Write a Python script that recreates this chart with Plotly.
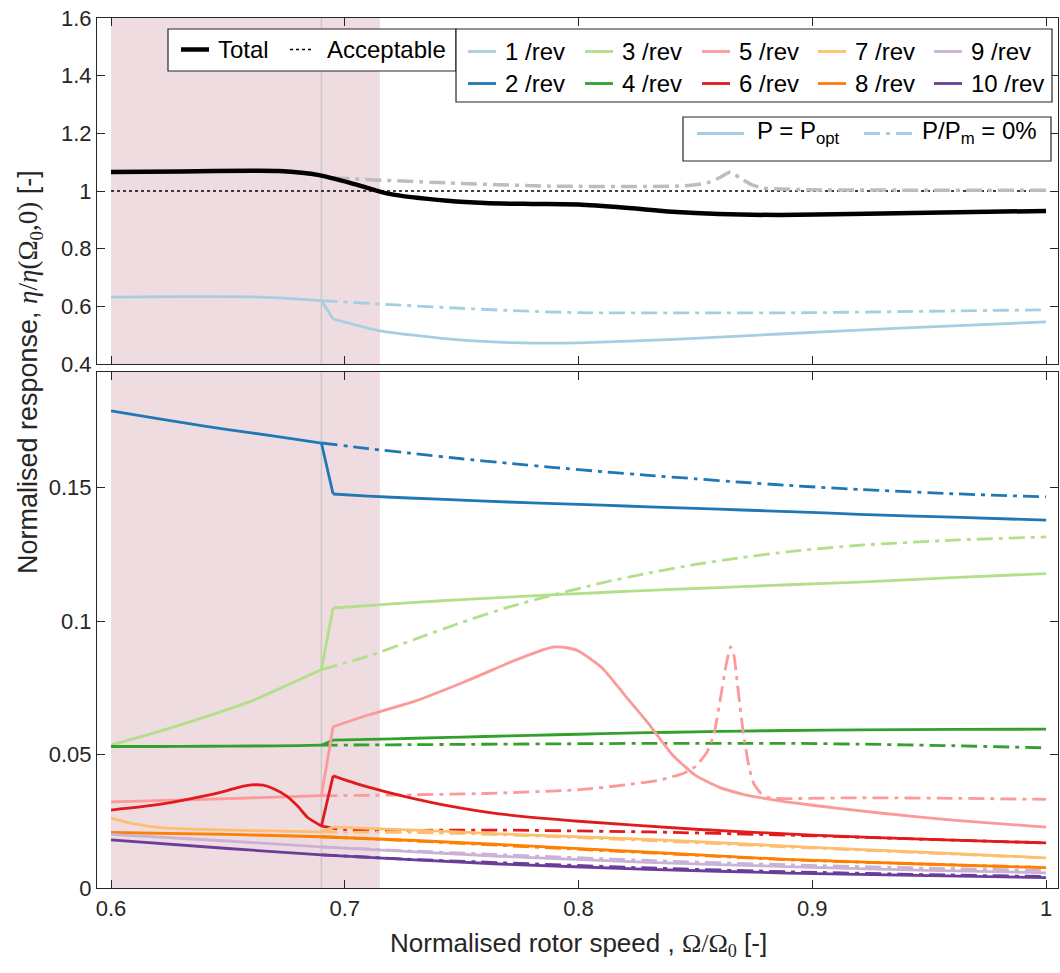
import plotly.graph_objects as go
from plotly.subplots import make_subplots

# ---------------- data: normalised rotor speed and responses ----------------
# shared speed grids (Omega / Omega_0)
SPEED = [0.600, 0.620, 0.640, 0.660, 0.680, 0.690, 0.695, 0.710, 0.730, 0.750,
         0.770, 0.790, 0.810, 0.830, 0.850, 0.870, 0.890, 0.920, 0.960, 1.000]
SPEED_P0 = [0.690, 0.710, 0.730, 0.750, 0.770, 0.790, 0.810, 0.830, 0.850, 0.870,
            0.890, 0.920, 0.960, 1.000]

# total response (upper panel)
TOTAL_X = [0.600, 0.630, 0.660, 0.672, 0.689, 0.705, 0.719, 0.744, 0.760, 0.780,
           0.800, 0.820, 0.840, 0.860, 0.886, 0.930, 1.000]
TOTAL_Y = [1.066, 1.068, 1.070, 1.069, 1.055, 1.022, 0.990, 0.966, 0.958, 0.955,
           0.953, 0.942, 0.928, 0.920, 0.917, 0.922, 0.931]
TOTAL_P0_X = [0.695, 0.744, 0.787, 0.843, 0.855, 0.860, 0.865, 0.869, 0.874, 0.879,
              0.900, 0.950, 1.000]
TOTAL_P0_Y = [1.045, 1.028, 1.017, 1.017, 1.028, 1.045, 1.066, 1.045, 1.022, 1.010,
              1.004, 1.003, 1.003]
ACCEPTABLE = 1.0

# 1 /rev (upper panel)
H1_X = [0.600, 0.630, 0.660, 0.672, 0.690, 0.695, 0.715, 0.744, 0.772, 0.800,
        0.843, 0.886, 0.940, 1.000]
H1_Y = [0.632, 0.634, 0.633, 0.629, 0.620, 0.556, 0.515, 0.487, 0.474, 0.473,
        0.486, 0.504, 0.525, 0.546]
H1_P0_X = [0.690, 0.715, 0.745, 0.772, 0.800, 0.850, 0.900, 0.950, 1.000]
H1_P0_Y = [0.620, 0.608, 0.595, 0.585, 0.578, 0.577, 0.578, 0.583, 0.588]

# 2 /rev .. 4 /rev on shared grids
H2_Y = [0.1787, 0.1758, 0.1730, 0.1705, 0.1680, 0.1667, 0.1476, 0.1468, 0.1460, 0.1453,
        0.1446, 0.1440, 0.1434, 0.1428, 0.1422, 0.1416, 0.1410, 0.1400, 0.1389, 0.1378]
H2_P0_Y = [0.1667, 0.1646, 0.1627, 0.1608, 0.1591, 0.1575, 0.1560, 0.1546, 0.1533, 0.1520,
           0.1508, 0.1493, 0.1477, 0.1465]
H3_Y = [0.0535, 0.0585, 0.0640, 0.0700, 0.0778, 0.0818, 0.1049, 0.1058, 0.1070, 0.1080,
        0.1090, 0.1099, 0.1107, 0.1115, 0.1122, 0.1129, 0.1136, 0.1146, 0.1163, 0.1178]
H3_P0_Y = [0.0818, 0.0868, 0.0932, 0.0995, 0.1052, 0.1100, 0.1143, 0.1180, 0.1212, 0.1238,
           0.1260, 0.1284, 0.1303, 0.1315]
H4_Y = [0.0530, 0.0530, 0.0531, 0.0532, 0.0533, 0.0535, 0.0554, 0.0557, 0.0561, 0.0565,
        0.0570, 0.0574, 0.0578, 0.0582, 0.0585, 0.0588, 0.0590, 0.0592, 0.0594, 0.0595]
H4_P0_Y = [0.0535, 0.0536, 0.0537, 0.0538, 0.0539, 0.0540, 0.0541, 0.0542, 0.0542, 0.0542,
           0.0542, 0.0539, 0.0533, 0.0525]

# 5 /rev
H5_X = [0.600, 0.640, 0.690, 0.695, 0.710, 0.730, 0.750, 0.760, 0.770, 0.780,
        0.785, 0.790, 0.795, 0.800, 0.810, 0.820, 0.830, 0.840, 0.850, 0.860,
        0.870, 0.880, 0.900, 0.930, 0.960, 1.000]
H5_Y = [0.0323, 0.0332, 0.0346, 0.0604, 0.0648, 0.0700, 0.0768, 0.0805, 0.0843, 0.0877,
        0.0893, 0.0903, 0.0900, 0.0888, 0.0825, 0.0720, 0.0615, 0.0500, 0.0422, 0.0378,
        0.0352, 0.0335, 0.0310, 0.0280, 0.0254, 0.0228]
H5_P0_X = [0.690, 0.720, 0.760, 0.800, 0.820, 0.835, 0.845, 0.850, 0.855, 0.858,
           0.8605, 0.863, 0.865, 0.8665, 0.868, 0.8705, 0.873, 0.875, 0.878, 0.882,
           0.890, 0.920, 0.960, 1.000]
H5_P0_Y = [0.0346, 0.0348, 0.0354, 0.0368, 0.0386, 0.0405, 0.0430, 0.0455, 0.0510, 0.0580,
           0.0700, 0.0830, 0.0903, 0.0870, 0.0760, 0.0580, 0.0450, 0.0390, 0.0355, 0.0337,
           0.0335, 0.0338, 0.0336, 0.0332]

# 6 /rev
H6_X = [0.600, 0.620, 0.640, 0.650, 0.655, 0.660, 0.665, 0.670, 0.675, 0.680,
        0.684, 0.690, 0.695, 0.705, 0.716, 0.730, 0.745, 0.766, 0.800, 0.850,
        0.900, 0.950, 1.000]
H6_Y = [0.0292, 0.0312, 0.0345, 0.0366, 0.0378, 0.0386, 0.0385, 0.0370, 0.0345, 0.0305,
        0.0265, 0.0232, 0.0420, 0.0391, 0.0364, 0.0334, 0.0307, 0.0278, 0.0250, 0.0220,
        0.0198, 0.0182, 0.0169]
H6_P0_X = [0.690, 0.700, 0.766, 0.830, 0.890, 0.950, 1.000]
H6_P0_Y = [0.0232, 0.0218, 0.0217, 0.0210, 0.0198, 0.0182, 0.0169]

# 7 /rev
H7_X = [0.600, 0.610, 0.624, 0.650, 0.690, 0.695, 0.730, 0.766, 0.830, 0.889, 0.950, 1.000]
H7_Y = [0.0262, 0.0240, 0.0224, 0.0217, 0.0210, 0.0228, 0.0217, 0.0203, 0.0182, 0.0157,
        0.0133, 0.0113]
H7_P0_X = [0.690, 0.730, 0.766, 0.830, 0.889, 0.950, 1.000]
H7_P0_Y = [0.0210, 0.0208, 0.0200, 0.0178, 0.0154, 0.0131, 0.0112]

# 8 /rev .. 10 /rev
HIGH_X = [0.600, 0.650, 0.690, 0.730, 0.766, 0.830, 0.889, 0.950, 1.000]
HIGH_P0_X = [0.690, 0.730, 0.766, 0.830, 0.889, 0.950, 1.000]
H8_Y = [0.0208, 0.0201, 0.0192, 0.0178, 0.0163, 0.0134, 0.0107, 0.0089, 0.0076]
H8_P0_Y = [0.0192, 0.0176, 0.0160, 0.0132, 0.0106, 0.0089, 0.0077]
H9_Y = [0.0201, 0.0176, 0.0154, 0.0135, 0.0119, 0.0096, 0.0080, 0.0066, 0.0057]
H9_P0_Y = [0.0154, 0.0138, 0.0125, 0.0103, 0.0087, 0.0074, 0.0066]
H10_Y = [0.0180, 0.0148, 0.0124, 0.0105, 0.0090, 0.0070, 0.0056, 0.0046, 0.0039]
H10_P0_Y = [0.0124, 0.0107, 0.0095, 0.0075, 0.0061, 0.0050, 0.0043]

HARMONIC_LABELS = ["1 /rev", "2 /rev", "3 /rev", "4 /rev", "5 /rev",
                   "6 /rev", "7 /rev", "8 /rev", "9 /rev", "10 /rev"]
HARMONIC_COLORS = ["#a6cee3", "#1f78b4", "#b2df8a", "#33a02c", "#fb9a99",
                   "#e31a1c", "#fdbf6f", "#ff7f00", "#cab2d6", "#6a3d9a"]

# operating limits
SHADE_X0, SHADE_X1 = 0.600, 0.715
SWITCH_SPEED = 0.690

X_TICKS = [0.6, 0.7, 0.8, 0.9, 1.0]
Y1_TICKS = [0.4, 0.6, 0.8, 1.0, 1.2, 1.4, 1.6]
Y2_TICKS = [0, 0.05, 0.1, 0.15]

# ---------------- figure ----------------
W, H = 1060, 973
ML, MR, MT, MB = 97, 2, 18, 85
AX = "#262626"
FONT = "Liberation Sans, Arial, sans-serif"
SERIF = "Liberation Serif"
DASHDOT = "16px,6px,4px,6px"
LW = 2.8


def pxx(x):
    return (x - ML) / (W - ML - MR)


def pxy(y):
    return (H - MB - y) / (H - MT - MB)


def add_piecewise(fig, xs, ys, color, row, width=LW):
    """Smooth curve on either side of the switching speed, straight jump between."""
    i_sw = xs.index(SWITCH_SPEED)
    segments = [
        (xs[:i_sw + 1], ys[:i_sw + 1], "spline"),
        (xs[i_sw:i_sw + 2], ys[i_sw:i_sw + 2], "linear"),
        (xs[i_sw + 1:], ys[i_sw + 1:], "spline"),
    ]
    for sx, sy, shape in segments:
        fig.add_trace(go.Scatter(x=sx, y=sy, mode="lines",
                                 line=dict(color=color, width=width, shape=shape,
                                           smoothing=0.5),
                                 showlegend=False), row=row, col=1)


def add_dashdot(fig, xs, ys, color, row, width=LW):
    fig.add_trace(go.Scatter(x=xs, y=ys, mode="lines",
                             line=dict(color=color, width=width, dash=DASHDOT,
                                       shape="spline", smoothing=0.5),
                             showlegend=False), row=row, col=1)


fig = make_subplots(rows=2, cols=1, shared_xaxes=True)

bottom_series = [
    (SPEED, H2_Y, SPEED_P0, H2_P0_Y, 1),
    (SPEED, H3_Y, SPEED_P0, H3_P0_Y, 2),
    (SPEED, H4_Y, SPEED_P0, H4_P0_Y, 3),
    (H5_X, H5_Y, H5_P0_X, H5_P0_Y, 4),
    (H6_X, H6_Y, H6_P0_X, H6_P0_Y, 5),
    (H7_X, H7_Y, H7_P0_X, H7_P0_Y, 6),
    (HIGH_X, H8_Y, HIGH_P0_X, H8_P0_Y, 7),
    (HIGH_X, H9_Y, HIGH_P0_X, H9_P0_Y, 8),
    (HIGH_X, H10_Y, HIGH_P0_X, H10_P0_Y, 9),
]

# upper panel
add_dashdot(fig, H1_P0_X, H1_P0_Y, HARMONIC_COLORS[0], 1)
add_piecewise(fig, H1_X, H1_Y, HARMONIC_COLORS[0], 1)
fig.add_trace(go.Scatter(x=[SHADE_X0, 1.0], y=[ACCEPTABLE, ACCEPTABLE], mode="lines",
                         line=dict(color="black", width=1.5, dash="dot"),
                         showlegend=False), row=1, col=1)
add_dashdot(fig, TOTAL_P0_X, TOTAL_P0_Y, "#bdbdbd", 1, width=3.5)
fig.add_trace(go.Scatter(x=TOTAL_X, y=TOTAL_Y, mode="lines",
                         line=dict(color="black", width=4.5, shape="spline", smoothing=0.7),
                         showlegend=False), row=1, col=1)

# lower panel
for sx, sy, dx, dy, k in bottom_series:
    add_piecewise(fig, sx, sy, HARMONIC_COLORS[k], 2)
    add_dashdot(fig, dx, dy, HARMONIC_COLORS[k], 2)

# shaded operating band and switching speed
for r in (1, 2):
    fig.add_vrect(x0=SHADE_X0, x1=SHADE_X1, fillcolor="#efdce0", opacity=1,
                  line_width=0, layer="below", row=r, col=1)
    fig.add_vline(x=SWITCH_SPEED, line=dict(color="#c8c8c8", width=1.5),
                  layer="below", row=r, col=1)

axis_common = dict(showline=True, linecolor=AX, linewidth=1.2, mirror="ticks",
                   ticks="inside", ticklen=8, tickcolor=AX, tickwidth=1.2,
                   showgrid=False, zeroline=False,
                   tickfont=dict(family=FONT, size=22, color=AX))

fig.update_xaxes(range=[0.594, 1.0051], tickvals=X_TICKS, **axis_common)
fig.update_xaxes(showticklabels=False, row=1, col=1)
fig.update_yaxes(**axis_common)
fig.update_yaxes(range=[0.4, 1.6], tickvals=Y1_TICKS, domain=[pxy(364), 1.0], row=1, col=1)
fig.update_yaxes(range=[0, 0.1933], tickvals=Y2_TICKS, domain=[0.0, pxy(372)], row=2, col=1)

shapes = []
annotations = []

# legend: total / acceptable
shapes.append(dict(type="rect", xref="paper", yref="paper", x0=pxx(168), x1=pxx(456),
                   y0=pxy(71), y1=pxy(29), line=dict(color=AX, width=1.2),
                   fillcolor="white", layer="above"))
shapes.append(dict(type="line", xref="paper", yref="paper", x0=pxx(181), x1=pxx(209),
                   y0=pxy(49.5), y1=pxy(49.5), line=dict(color="black", width=4.5),
                   layer="above"))
shapes.append(dict(type="line", xref="paper", yref="paper", x0=pxx(290), x1=pxx(313),
                   y0=pxy(49.5), y1=pxy(49.5), line=dict(color="black", width=1.5, dash="dot"),
                   layer="above"))
annotations.append(dict(text="Total", x=pxx(216), y=pxy(49.5)))
annotations.append(dict(text="Acceptable", x=pxx(325), y=pxy(49.5)))

# legend: harmonics (5 columns x 2 rows)
shapes.append(dict(type="rect", xref="paper", yref="paper", x0=pxx(456), x1=pxx(1052),
                   y0=pxy(102), y1=pxy(29), line=dict(color=AX, width=1.2),
                   fillcolor="white", layer="above"))
col_x = [468, 585, 702, 818, 934]
row_y = [51.5, 83.5]
for i, (lab, colr) in enumerate(zip(HARMONIC_LABELS, HARMONIC_COLORS)):
    cx = col_x[i // 2]
    ry = row_y[i % 2]
    shapes.append(dict(type="line", xref="paper", yref="paper", x0=pxx(cx), x1=pxx(cx + 28),
                       y0=pxy(ry), y1=pxy(ry), line=dict(color=colr, width=LW),
                       layer="above"))
    annotations.append(dict(text=lab, x=pxx(cx + 35), y=pxy(ry)))

# legend: operating condition
shapes.append(dict(type="rect", xref="paper", yref="paper", x0=pxx(683), x1=pxx(1051),
                   y0=pxy(161), y1=pxy(117), line=dict(color=AX, width=1.2),
                   fillcolor="white", layer="above"))
shapes.append(dict(type="line", xref="paper", yref="paper", x0=pxx(697), x1=pxx(744),
                   y0=pxy(133.5), y1=pxy(133.5),
                   line=dict(color=HARMONIC_COLORS[0], width=LW), layer="above"))
shapes.append(dict(type="line", xref="paper", yref="paper", x0=pxx(864), x1=pxx(912),
                   y0=pxy(133.5), y1=pxy(133.5),
                   line=dict(color=HARMONIC_COLORS[0], width=LW, dash=DASHDOT), layer="above"))
annotations.append(dict(text="P = P<sub>opt</sub>", x=pxx(755), y=pxy(133.5), yanchor="top",
                        yshift=19))
annotations.append(dict(text="P/P<sub>m</sub> = 0%", x=pxx(920), y=pxy(133.5), yanchor="top",
                        yshift=19))

for a in annotations:
    a.setdefault("xref", "paper")
    a.setdefault("yref", "paper")
    a.setdefault("xanchor", "left")
    a.setdefault("yanchor", "middle")
    a.setdefault("showarrow", False)
    a.setdefault("font", dict(family=FONT, size=24, color="black"))

# axis titles
math = (f'<span style="font-family:{SERIF}"><i>η</i>/<i>η</i>(Ω<sub>0</sub>,0)</span>')
annotations.append(dict(text=f"Normalised response, {math} [-]", xref="paper", yref="paper",
                        x=pxx(30), y=pxy(372), textangle=-90, showarrow=False,
                        xanchor="center", yanchor="middle",
                        font=dict(family=FONT, size=27, color=AX)))
omega = f'<span style="font-family:{SERIF}">Ω/Ω<sub>0</sub></span>'
annotations.append(dict(text=f"Normalised rotor speed , {omega} [-]", xref="paper",
                        yref="paper", x=pxx(578), y=pxy(944), showarrow=False,
                        xanchor="center", yanchor="middle",
                        font=dict(family=FONT, size=26, color=AX)))

fig.update_layout(
    width=W, height=H,
    margin=dict(l=ML, r=MR, t=MT, b=MB),
    paper_bgcolor="white", plot_bgcolor="white",
    showlegend=False,
    shapes=list(fig.layout.shapes) + shapes,
    annotations=annotations,
    font=dict(family=FONT, color=AX),
)

fig.write_html("out.html")
